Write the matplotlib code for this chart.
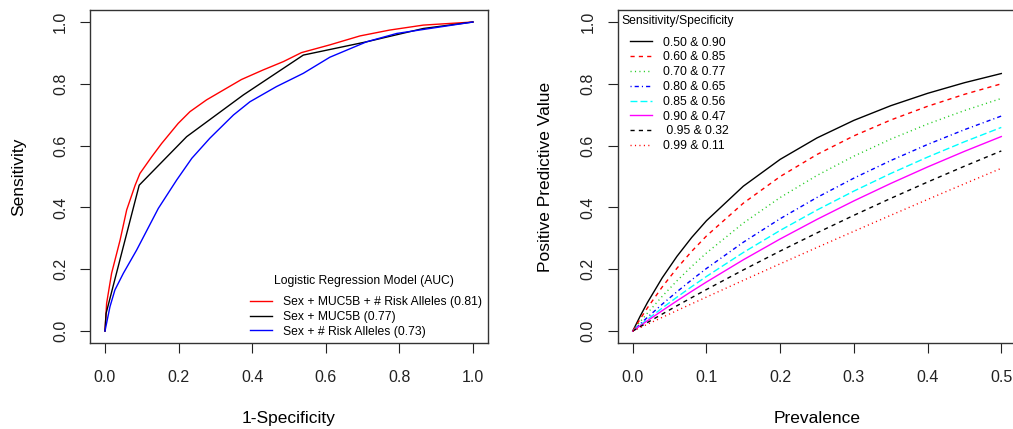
import matplotlib
matplotlib.use("Agg")
import matplotlib.pyplot as plt

plt.rcParams['font.family'] = ['Liberation Sans', 'DejaVu Sans']

# ROC curves (1-specificity, sensitivity)
roc_full_x = [0, 0.0045, 0.018, 0.041, 0.059, 0.082, 0.095, 0.127, 0.154, 0.199, 0.231,
              0.276, 0.322, 0.371, 0.430, 0.485, 0.534, 0.611, 0.693, 0.774, 0.865, 1.0]
roc_full_y = [0, 0.09, 0.187, 0.294, 0.392, 0.472, 0.510, 0.564, 0.607, 0.672, 0.710,
              0.748, 0.780, 0.814, 0.845, 0.872, 0.901, 0.926, 0.955, 0.974, 0.990, 1.0]
roc_muc_x = [0, 0.003, 0.093, 0.222, 0.376, 0.539, 0.711, 0.865, 1.0]
roc_muc_y = [0, 0.057, 0.472, 0.629, 0.764, 0.893, 0.936, 0.979, 1.0]
roc_alleles_x = [0, 0.0136, 0.027, 0.050, 0.086, 0.145, 0.195, 0.236, 0.285, 0.349,
                 0.394, 0.466, 0.539, 0.611, 0.711, 0.793, 1.0]
roc_alleles_y = [0, 0.079, 0.133, 0.187, 0.262, 0.397, 0.489, 0.559, 0.624, 0.699,
                 0.742, 0.791, 0.834, 0.886, 0.936, 0.963, 1.0]
roc_labels = ["Sex + MUC5B + # Risk Alleles (0.81)", "Sex + MUC5B (0.77)",
              "Sex + # Risk Alleles (0.73)"]

# PPV curves
prevalence = [0, 0.01, 0.02, 0.04, 0.06, 0.08, 0.10, 0.15, 0.20, 0.25, 0.30, 0.35, 0.40, 0.45, 0.50]
ppv_50_90 = [0, 0.0481, 0.0926, 0.1724, 0.2419, 0.3030, 0.3571, 0.4688, 0.5556, 0.625, 0.6818, 0.7292, 0.7692, 0.8036, 0.8333]
ppv_60_85 = [0, 0.0388, 0.0755, 0.1429, 0.2034, 0.2581, 0.3077, 0.4138, 0.5, 0.5714, 0.6316, 0.6829, 0.7273, 0.7660, 0.8]
ppv_70_77 = [0, 0.0298, 0.0585, 0.1125, 0.1627, 0.2093, 0.2527, 0.3494, 0.4321, 0.5036, 0.5660, 0.6210, 0.6699, 0.7135, 0.7527]
ppv_80_65 = [0, 0.0226, 0.0446, 0.0870, 0.1273, 0.1658, 0.2025, 0.2874, 0.3636, 0.4324, 0.4948, 0.5517, 0.6038, 0.6516, 0.6957]
ppv_85_56 = [0, 0.0191, 0.0379, 0.0745, 0.1098, 0.1438, 0.1767, 0.2542, 0.3257, 0.3917, 0.4529, 0.5099, 0.5629, 0.6125, 0.6589]
ppv_90_47 = [0, 0.0169, 0.0335, 0.0661, 0.0978, 0.1287, 0.1587, 0.2306, 0.2980, 0.3614, 0.4212, 0.4776, 0.5310, 0.5815, 0.6294]
ppv_95_32 = [0, 0.0139, 0.0277, 0.0550, 0.0819, 0.1083, 0.1344, 0.1978, 0.2589, 0.3177, 0.3745, 0.4293, 0.4822, 0.5334, 0.5828]
ppv_99_11 = [0, 0.0111, 0.0222, 0.0443, 0.0663, 0.0882, 0.11, 0.1641, 0.2176, 0.2705, 0.3228, 0.3746, 0.4258, 0.4765, 0.5266]
ppv_labels = ["0.50 & 0.90", "0.60 & 0.85", "0.70 & 0.77", "0.80 & 0.65",
              "0.85 & 0.56", "0.90 & 0.47", " 0.95 & 0.32", "0.99 & 0.11"]

fig = plt.figure(figsize=(10.13, 4.29), dpi=100)
ax1 = fig.add_axes([0.0891, 0.1995, 0.3923, 0.778])
ax2 = fig.add_axes([0.6101, 0.1995, 0.3929, 0.778])


def r_style(ax):
    for s in ax.spines.values():
        s.set_linewidth(1.0)
        s.set_color('#333333')
    ax.tick_params(axis='both', direction='out', length=7, width=0.8, labelsize=11.5,
                   colors='#222222')
    ax.tick_params(axis='x', pad=12.5)
    ax.tick_params(axis='y', pad=9, labelrotation=90)
    for lbl in ax.get_yticklabels():
        lbl.set_va('center')
    ax.xaxis.label.set_size(12.5)
    ax.yaxis.label.set_size(12.5)
    ax.xaxis.label.set_va('center')
    ax.yaxis.label.set_va('center')
    ax.xaxis.set_label_coords(0.5, -0.2235)
    ax.yaxis.set_label_coords(-0.181, 0.5)


# left: ROC
ax1.plot(roc_full_x, roc_full_y, color='red', lw=1.0, label=roc_labels[0])
ax1.plot(roc_muc_x, roc_muc_y, color='black', lw=1.0, label=roc_labels[1])
ax1.plot(roc_alleles_x, roc_alleles_y, color='blue', lw=1.0, label=roc_labels[2])
ax1.set_xlim(-0.04, 1.04)
ax1.set_ylim(-0.04, 1.04)
ax1.set_xticks([0, 0.2, 0.4, 0.6, 0.8, 1.0])
ax1.set_yticks([0, 0.2, 0.4, 0.6, 0.8, 1.0])
ax1.set_xlabel('1-Specificity')
ax1.set_ylabel('Sensitivity')
r_style(ax1)
ax1.text(0.6875, 0.187, 'Logistic Regression Model (AUC)', transform=ax1.transAxes,
         ha='center', va='center', fontsize=8.7)
ax1.legend(loc='upper left', bbox_to_anchor=(0.402, 0.142), frameon=False,
           fontsize=8.7, handlelength=1.85, handletextpad=0.9,
           labelspacing=0.23, borderpad=0, borderaxespad=0)

# right: PPV
ppv_series = [ppv_50_90, ppv_60_85, ppv_70_77, ppv_80_65, ppv_85_56, ppv_90_47, ppv_95_32, ppv_99_11]
colors = ['black', 'red', '#22cc22', 'blue', 'cyan', 'magenta', 'black', 'red']
dashes = [None, (3, 3), (0.8, 2.4), (0.8, 2.2, 3, 2.2), (5, 2.2), None, (3, 3), (0.8, 2.4)]
for vals, c, d, lab in zip(ppv_series, colors, dashes, ppv_labels):
    line, = ax2.plot(prevalence, vals, color=c, lw=1.0, label=lab)
    if d is not None:
        line.set_dashes(d)
ax2.set_xlim(-0.02, 0.52)
ax2.set_ylim(-0.04, 1.04)
ax2.set_xticks([0, 0.1, 0.2, 0.3, 0.4, 0.5])
ax2.set_yticks([0, 0.2, 0.4, 0.6, 0.8, 1.0])
ax2.set_xlabel('Prevalence')
ax2.set_ylabel('Positive Predictive Value')
r_style(ax2)
ax2.text(0.009, 0.966, 'Sensitivity/Specificity', transform=ax2.transAxes,
         ha='left', va='center', fontsize=8.7)
ax2.legend(loc='upper left', bbox_to_anchor=(0.030, 0.919), frameon=False,
           fontsize=8.7, handlelength=1.85, handletextpad=0.9,
           labelspacing=0.23, borderpad=0, borderaxespad=0)

fig.savefig('out.png', dpi=100)
